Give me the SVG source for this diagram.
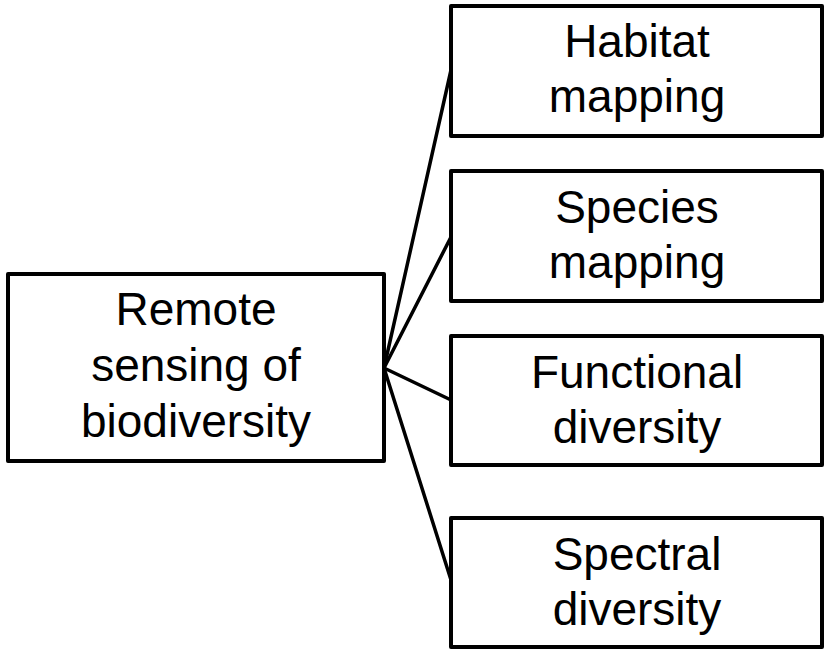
<svg xmlns="http://www.w3.org/2000/svg" width="825" height="649" viewBox="0 0 825 649">
<style>
.box{fill:#fff;stroke:#000;stroke-width:4;stroke-linejoin:round}
.t{font-family:"Liberation Sans",Arial,sans-serif;font-size:46px;fill:#000;text-anchor:middle}
.c{stroke:#000;stroke-width:3.5;fill:none;stroke-linecap:round}
</style>
<rect width="825" height="649" fill="#fff"/>
<g id="connectors">
<line class="c" x1="384" y1="368" x2="451" y2="70"/>
<line class="c" x1="384" y1="368" x2="451" y2="237"/>
<line class="c" x1="384" y1="368" x2="451" y2="400"/>
<line class="c" x1="384" y1="368" x2="451" y2="580"/>
</g>
<g id="root">
<rect class="box" x="8" y="274" width="376" height="187"/>
<text class="t" x="196" y="325">Remote</text>
<text class="t" x="196" y="381">sensing of</text>
<text class="t" x="196" y="437">biodiversity</text>
</g>
<g id="habitat">
<rect class="box" x="451" y="6" width="371" height="130"/>
<text class="t" x="637" y="57">Habitat</text>
<text class="t" x="637" y="112">mapping</text>
</g>
<g id="species">
<rect class="box" x="451" y="171" width="371" height="130"/>
<text class="t" x="637" y="223">Species</text>
<text class="t" x="637" y="278">mapping</text>
</g>
<g id="functional">
<rect class="box" x="451" y="336" width="371" height="129"/>
<text class="t" x="637" y="388">Functional</text>
<text class="t" x="637" y="443">diversity</text>
</g>
<g id="spectral">
<rect class="box" x="451" y="518" width="371" height="129"/>
<text class="t" x="637" y="570">Spectral</text>
<text class="t" x="637" y="625">diversity</text>
</g>
</svg>
